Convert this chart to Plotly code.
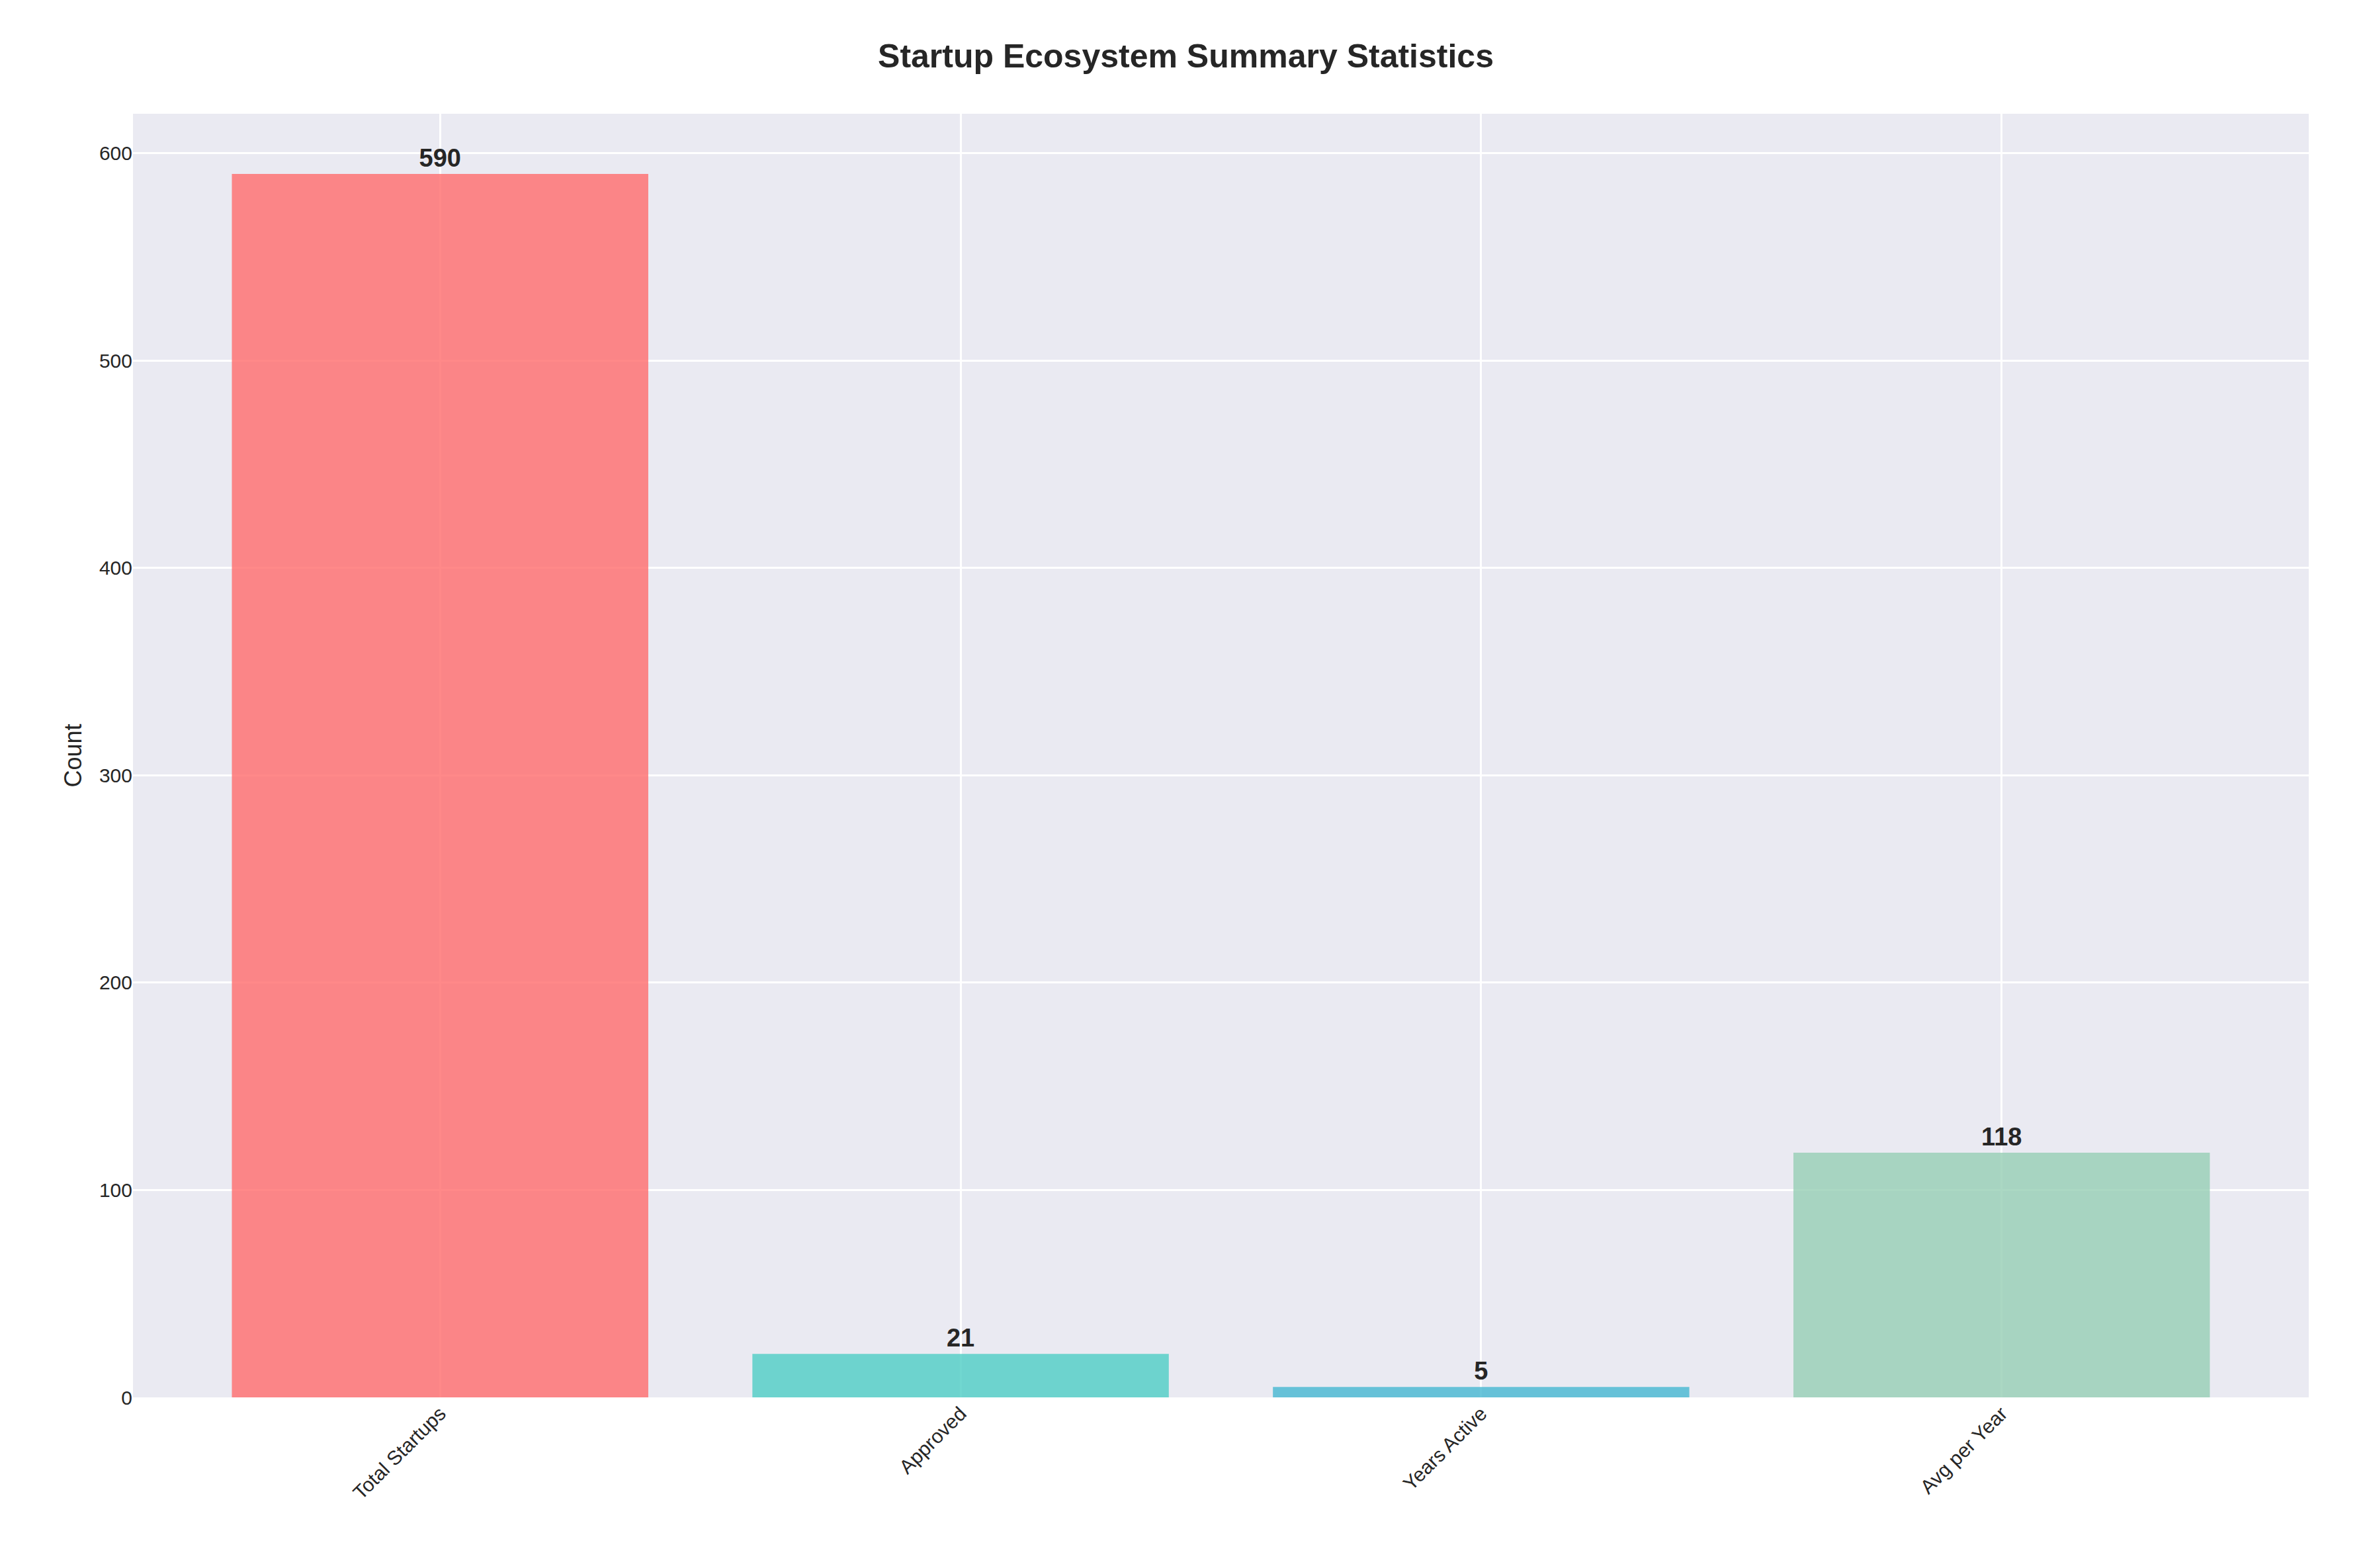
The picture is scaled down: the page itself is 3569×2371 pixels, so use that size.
import plotly.graph_objects as go

categories = ["Total Startups", "Approved", "Years Active", "Avg per Year"]
values = [590, 21, 5, 118]
colors = ["rgba(255,107,107,0.8)", "rgba(78,205,196,0.8)", "rgba(69,183,209,0.8)", "rgba(150,206,180,0.8)"]

fig = go.Figure(go.Bar(
    x=list(range(len(categories))),
    y=values,
    width=0.8,
    marker=dict(color=colors, line=dict(width=0)),
    text=[str(v) for v in values],
    textposition="outside",
    cliponaxis=False,
    textfont=dict(size=38, color="#262626", family="Liberation Sans, Arial", weight="bold"),
))

fig.update_layout(
    width=3569, height=2371,
    paper_bgcolor="white", plot_bgcolor="#EAEAF2",
    font=dict(family="Liberation Sans, Arial", color="#262626"),
    title=dict(text="<b>Startup Ecosystem Summary Statistics</b>", x=0.5, xanchor="center",
               y=0.975, font=dict(size=50)),
    margin=dict(l=193, r=87, t=164, b=266),
    showlegend=False,
    bargap=0.2,
)
fig.update_xaxes(
    tickvals=list(range(len(categories))), ticktext=categories,
    range=[-0.59, 3.59], tickangle=-45, tickfont=dict(size=30),
    showgrid=True, gridcolor="white", gridwidth=3, zeroline=False,
)
fig.update_yaxes(
    range=[0, 619], tickvals=[0, 100, 200, 300, 400, 500, 600], tickfont=dict(size=30),
    title=dict(text="Count", font=dict(size=36)),
    showgrid=True, gridcolor="white", gridwidth=3, zeroline=False,
)

fig.write_html("out.html")
